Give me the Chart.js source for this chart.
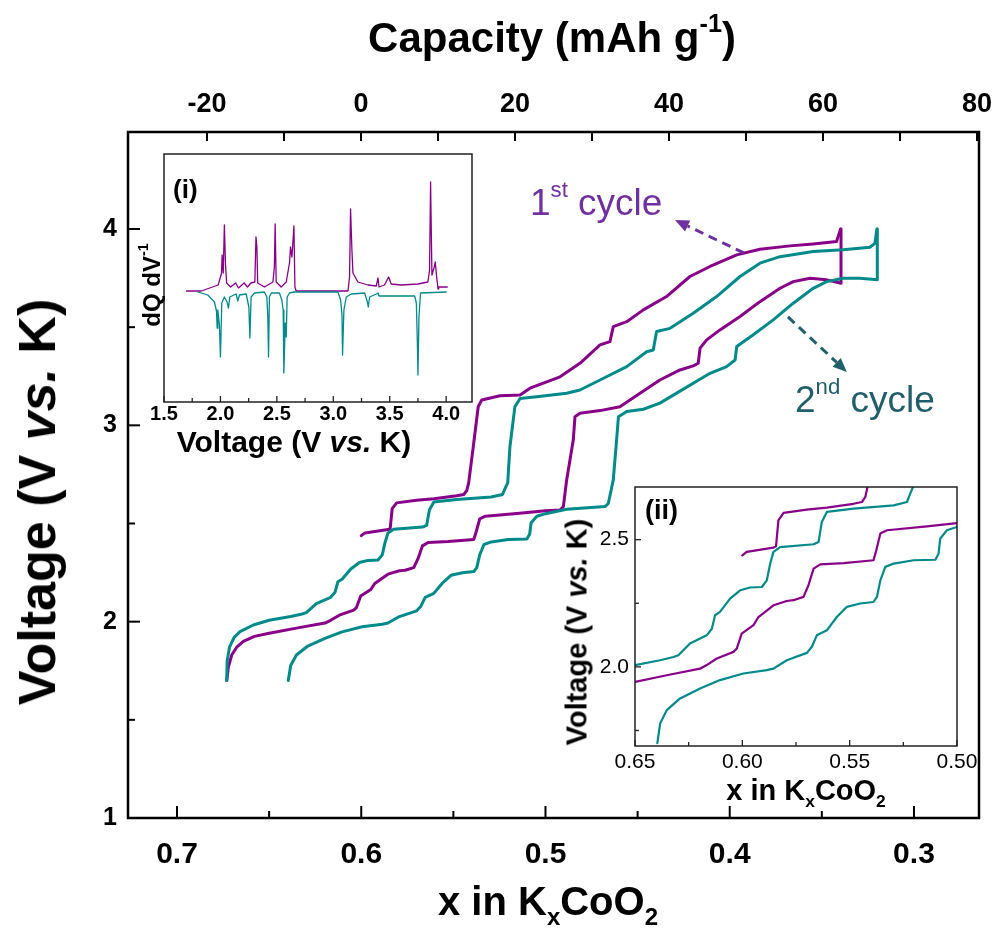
<!DOCTYPE html>
<html>
<head>
<meta charset="utf-8">
<script src="https://cdn.jsdelivr.net/npm/chart.js@4.4.1/dist/chart.umd.min.js"></script>
<style>
  body { margin: 0; background: #fff; }
  #wrap { position: relative; width: 997px; height: 937px; overflow: hidden; font-family: 'Liberation Sans', Arial, sans-serif; }
  canvas { position: absolute; }
  .t { position: absolute; white-space: nowrap; line-height: 1; color: #000; }
  .b { font-weight: bold; }
  .ctr { transform: translateX(-50%); }
  .rot { transform: translate(-50%, -50%) rotate(-90deg); }
  sub, sup { font-size: 60%; line-height: 0; position: relative; vertical-align: baseline; }
  sup { top: -0.8em; }
  sub { top: 0.4em; }
</style>
</head>
<body>
<div id="wrap">
  <canvas id="main" width="997" height="937" style="left:0;top:0"></canvas>
  <canvas id="insetDq" width="390" height="330" style="left:100px;top:140px"></canvas>
  <canvas id="insetZoom" width="420" height="316" style="left:560px;top:470px"></canvas>

  <div class="t b ctr" style="left:552px;top:17px;font-size:42px">Capacity (mAh g<sup>-1</sup>)</div>
  <div class="t b ctr" style="left:548px;top:881px;font-size:40px">x in K<sub>x</sub>CoO<sub>2</sub></div>
  <div class="t b rot" style="left:37px;top:502px;font-size:52px">Voltage (V <i>vs.</i> K)</div>

  <div class="t" style="left:530px;top:184px;font-size:37px;color:#7030a0">1<sup>st</sup> cycle</div>
  <div class="t" style="left:795px;top:381px;font-size:37px;color:#215e6b">2<sup>nd</sup> cycle</div>

  <div class="t b" style="left:173px;top:176px;font-size:26px">(i)</div>
  <div class="t b ctr" style="left:294px;top:427px;font-size:30px">Voltage (V <i>vs.</i> K)</div>
  <div class="t b rot" style="left:152px;top:285px;font-size:24px">dQ dV<sup>-1</sup></div>

  <div class="t b" style="left:645px;top:497px;font-size:27px">(ii)</div>
  <div class="t b rot" style="left:577px;top:632px;font-size:29px">Voltage (V <i>vs.</i> K)</div>
  <div class="t b ctr" style="left:806px;top:776px;font-size:29px">x in K<sub>x</sub>CoO<sub>2</sub></div>
</div>
<script>
// voltage profiles: [x in KxCoO2, V vs K]
const charge1 = [
  [0.600, 2.438], [0.598, 2.452], [0.5855, 2.469], [0.5843, 2.474], [0.5832, 2.576], [0.5808, 2.605],
  [0.570, 2.618], [0.5606, 2.626], [0.5482, 2.641], [0.5443, 2.648], [0.5427, 2.668], [0.5417, 2.707],
  [0.5392, 2.891], [0.5365, 3.095], [0.5346, 3.129], [0.5247, 3.151], [0.5138, 3.155], [0.5084, 3.189],
  [0.4921, 3.247], [0.4813, 3.316], [0.4704, 3.410], [0.4650, 3.426], [0.4632, 3.503], [0.4559, 3.528],
  [0.4469, 3.588], [0.4343, 3.656], [0.4216, 3.758], [0.4107, 3.809], [0.3962, 3.868], [0.3836, 3.897],
  [0.3673, 3.914], [0.3547, 3.924], [0.3420, 3.936], [0.3398, 4.000]
];
const discharge1 = [
  [0.3396, 4.000], [0.3396, 3.724], [0.3474, 3.741], [0.3564, 3.749], [0.3655, 3.732], [0.3727, 3.698],
  [0.3836, 3.630], [0.3944, 3.554], [0.4053, 3.486], [0.4125, 3.435], [0.4161, 3.393], [0.4171, 3.316],
  [0.4198, 3.303], [0.4270, 3.282], [0.4379, 3.231], [0.4487, 3.164], [0.4596, 3.095], [0.4704, 3.075],
  [0.4813, 3.061], [0.4840, 3.044], [0.4849, 2.926], [0.4885, 2.722], [0.4903, 2.586], [0.4921, 2.569],
  [0.5000, 2.565], [0.5140, 2.552], [0.5326, 2.537], [0.5357, 2.524], [0.5376, 2.458], [0.5389, 2.419],
  [0.5528, 2.408], [0.5637, 2.403], [0.5668, 2.386], [0.5692, 2.321], [0.5715, 2.275], [0.5762, 2.262],
  [0.5793, 2.259], [0.5855, 2.242], [0.5925, 2.196], [0.5948, 2.164], [0.6003, 2.131], [0.6026, 2.072],
  [0.6041, 2.059], [0.6119, 2.033], [0.6166, 2.007], [0.6197, 1.993], [0.6352, 1.967], [0.6500, 1.941],
  [0.6580, 1.925], [0.6640, 1.900], [0.6676, 1.870], [0.6703, 1.830], [0.6721, 1.770], [0.6730, 1.700]
];
const charge2 = [
  [0.6730, 1.700], [0.6728, 1.800], [0.6715, 1.870], [0.6690, 1.920], [0.6658, 1.949], [0.6586, 1.983],
  [0.6500, 2.007], [0.6383, 2.026], [0.6321, 2.039], [0.6298, 2.046], [0.6244, 2.092], [0.6166, 2.124],
  [0.6142, 2.150], [0.6127, 2.203], [0.6104, 2.216], [0.6057, 2.268], [0.6010, 2.301], [0.5964, 2.312],
  [0.5909, 2.314], [0.5886, 2.340], [0.5870, 2.406], [0.5855, 2.452], [0.5824, 2.471], [0.5668, 2.482],
  [0.5645, 2.491], [0.5630, 2.569], [0.5606, 2.609], [0.5482, 2.622], [0.5295, 2.635], [0.5233, 2.648],
  [0.5218, 2.681], [0.5205, 2.707], [0.5193, 2.891], [0.5166, 3.095], [0.5138, 3.137], [0.5048, 3.146],
  [0.4885, 3.163], [0.4813, 3.180], [0.4704, 3.231], [0.4559, 3.299], [0.4451, 3.375], [0.4415, 3.384],
  [0.4397, 3.478], [0.4324, 3.494], [0.4198, 3.571], [0.4071, 3.656], [0.3944, 3.758], [0.3836, 3.826],
  [0.3727, 3.859], [0.3547, 3.885], [0.3384, 3.894], [0.3239, 3.907], [0.3212, 3.927], [0.3201, 4.000]
];
const discharge2 = [
  [0.3199, 4.000], [0.3199, 3.741], [0.3293, 3.749], [0.3384, 3.749], [0.3474, 3.732], [0.3547, 3.698],
  [0.3655, 3.622], [0.3764, 3.537], [0.3872, 3.461], [0.3962, 3.401], [0.3971, 3.333], [0.4017, 3.299],
  [0.4107, 3.265], [0.4198, 3.214], [0.4288, 3.164], [0.4379, 3.113], [0.4469, 3.082], [0.4559, 3.070],
  [0.4604, 3.044], [0.4614, 2.926], [0.4632, 2.722], [0.4659, 2.602], [0.4677, 2.586], [0.4885, 2.573],
  [0.5000, 2.550], [0.5047, 2.537], [0.5078, 2.504], [0.5086, 2.445], [0.5101, 2.421], [0.5202, 2.419],
  [0.5295, 2.406], [0.5334, 2.393], [0.5357, 2.340], [0.5373, 2.275], [0.5389, 2.255], [0.5451, 2.249],
  [0.5513, 2.236], [0.5560, 2.196], [0.5583, 2.170], [0.5606, 2.144], [0.5653, 2.124], [0.5676, 2.079],
  [0.5699, 2.055], [0.5793, 2.026], [0.5855, 1.993], [0.5886, 1.987], [0.5995, 1.974], [0.6104, 1.948],
  [0.6197, 1.915], [0.6290, 1.876], [0.6352, 1.830], [0.6383, 1.777], [0.6396, 1.700]
];

// dQ/dV inset: [V, arbitrary units]
const dqdv1 = [
  [1.70, 0], [1.83, 0], [1.98, 0.06], [2.01, 0.18], [2.015, 0.36], [2.025, 0.18], [2.035, 0.66], [2.045, 0.26],
  [2.055, 0.08], [2.09, 0.04], [2.135, 0.08], [2.16, 0.03], [2.21, 0.08], [2.24, 0.04], [2.27, 0.08], [2.305, 0.09],
  [2.315, 0.54], [2.323, 0.44], [2.33, 0.08], [2.39, 0.04], [2.465, 0.09], [2.478, 0.24], [2.485, 0.67], [2.494, 0.09],
  [2.538, 0.04], [2.583, 0.09], [2.612, 0.28], [2.621, 0.44], [2.633, 0.34], [2.642, 0.48], [2.651, 0.65], [2.66, 0.04],
  [2.671, 0], [3.13, 0], [3.144, 0.14], [3.153, 0.82], [3.165, 0.41], [3.174, 0.18], [3.218, 0.09], [3.307, 0.06],
  [3.381, 0.05], [3.396, 0.13], [3.405, 0.04], [3.454, 0.06], [3.49, 0.14], [3.513, 0.07], [3.602, 0.06], [3.75, 0.07],
  [3.838, 0.09], [3.853, 0.21], [3.862, 1.09], [3.874, 0.16], [3.892, 0.23], [3.904, 0.29], [3.913, 0.17], [3.928, 0.02],
  [3.934, 0.04], [4.01, 0.04]
];
const dqdv2 = [
  [1.80, -0.01], [1.888, -0.04], [1.947, -0.11], [1.965, -0.20], [1.971, -0.37], [1.977, -0.19], [1.991, -0.34], [2.0, -0.66],
  [2.012, -0.12], [2.035, -0.06], [2.059, -0.11], [2.071, -0.17], [2.083, -0.06], [2.139, -0.03], [2.154, -0.10], [2.169, -0.04],
  [2.228, -0.03], [2.252, -0.16], [2.261, -0.47], [2.272, -0.06], [2.302, -0.02], [2.39, -0.01], [2.411, -0.06], [2.42, -0.26],
  [2.426, -0.66], [2.434, -0.06], [2.45, -0.02], [2.523, -0.02], [2.544, -0.09], [2.556, -0.19], [2.562, -0.82], [2.574, -0.32],
  [2.583, -0.46], [2.591, -0.06], [2.612, -0.02], [2.65, -0.01], [3.041, -0.01], [3.065, -0.09], [3.077, -0.24], [3.082, -0.64],
  [3.094, -0.19], [3.115, -0.06], [3.16, -0.03], [3.278, -0.02], [3.302, -0.11], [3.31, -0.16], [3.322, -0.06], [3.381, -0.03],
  [3.397, -0.02], [3.405, -0.05], [3.721, -0.05], [3.736, -0.12], [3.745, -0.52], [3.75, -0.84], [3.759, -0.26], [3.773, -0.02],
  [4.0, -0.01]
];

// ticks
const xTicks = [0.7, 0.6, 0.5, 0.4, 0.3];
const xMinor = [0.65, 0.55, 0.45, 0.35];
const capTicks = [-20, 0, 20, 40, 60, 80];
const capMinor = [-10, 10, 30, 50, 70];
const yTicks = [1, 2, 3, 4];
const yMinor = [1.5, 2.5, 3.5];
const dqTicks = [1.5, 2.0, 2.5, 3.0, 3.5, 4.0];
const dqMinor = [1.75, 2.25, 2.75, 3.25, 3.75];
const zoomXTicks = [0.65, 0.60, 0.55, 0.50];
const zoomXMinor = [0.625, 0.575, 0.525];
const zoomYTicks = [2.0, 2.5];
const zoomYMinor = [1.75, 2.25];

const PURPLE = '#880088';
const TEAL = '#008a8a';
const NARROW = "'Liberation Sans Narrow', 'Arial Narrow', 'Liberation Sans', Arial, sans-serif";
const SANS = "'Liberation Sans', Arial, sans-serif";

function curve(arr, color, width) {
  return {
    data: arr.map(([x, y]) => ({ x, y })),
    borderColor: color, borderWidth: width, showLine: true,
    pointRadius: 0, tension: 0, borderJoinStyle: 'round', borderCapStyle: 'round'
  };
}
function fixTicks(values) {
  return s => { s.ticks = values.map(v => ({ value: v })); };
}
// fixed axis box size, no extra label overflow padding so the plot box lands where it should
function fitSize(size) {
  return s => {
    if (s.isHorizontal()) s.height = size; else s.width = size;
    s.paddingLeft = s.paddingRight = s.paddingTop = s.paddingBottom = 0;
  };
}

// frame + inward tick marks
const frameTicks = {
  id: 'frameTicks',
  beforeDatasetsDraw(chart, args, opts) {
    if (!opts.fill) return;
    const a = chart.chartArea;
    chart.ctx.save();
    chart.ctx.fillStyle = '#fff';
    chart.ctx.fillRect(a.left, a.top, a.right - a.left, a.bottom - a.top);
    chart.ctx.restore();
  },
  afterDatasetsDraw(chart, args, opts) {
    const { ctx, chartArea: a } = chart;
    ctx.save();
    ctx.strokeStyle = opts.color;
    ctx.lineWidth = opts.tickWidth;
    (opts.marks || []).forEach(m => {
      const s = chart.scales[m.scale];
      m.values.forEach(v => {
        const p = s.getPixelForValue(v);
        ctx.beginPath();
        if (m.side === 'bottom') { ctx.moveTo(p, a.bottom); ctx.lineTo(p, a.bottom - m.len); }
        if (m.side === 'top') { ctx.moveTo(p, a.top); ctx.lineTo(p, a.top + m.len); }
        if (m.side === 'left') { ctx.moveTo(a.left, p); ctx.lineTo(a.left + m.len, p); }
        ctx.stroke();
      });
    });
    ctx.lineWidth = opts.frameWidth;
    ctx.strokeRect(a.left, a.top, a.right - a.left, a.bottom - a.top);
    ctx.restore();
  }
};

// dashed annotation arrows, endpoints in data units
const arrows = {
  id: 'arrows',
  afterDatasetsDraw(chart, args, opts) {
    const { ctx } = chart;
    const sx = chart.scales.x, sy = chart.scales.y;
    (opts.items || []).forEach(it => {
      const x0 = sx.getPixelForValue(it.from[0]), y0 = sy.getPixelForValue(it.from[1]);
      const x1 = sx.getPixelForValue(it.to[0]), y1 = sy.getPixelForValue(it.to[1]);
      const ang = Math.atan2(y1 - y0, x1 - x0);
      const head = 14, half = 6;
      const bx = x1 - head * Math.cos(ang), by = y1 - head * Math.sin(ang);
      ctx.save();
      ctx.strokeStyle = it.color;
      ctx.fillStyle = it.color;
      ctx.lineWidth = 3;
      ctx.setLineDash([9, 6]);
      ctx.beginPath();
      ctx.moveTo(x0, y0);
      ctx.lineTo(bx, by);
      ctx.stroke();
      ctx.setLineDash([]);
      ctx.beginPath();
      ctx.moveTo(x1, y1);
      ctx.lineTo(bx + half * Math.sin(ang), by - half * Math.cos(ang));
      ctx.lineTo(bx - half * Math.sin(ang), by + half * Math.cos(ang));
      ctx.closePath();
      ctx.fill();
      ctx.restore();
    });
  }
};

const common = {
  responsive: false,
  animation: false,
  devicePixelRatio: 1,
  events: []
};
const hideGrid = { display: false, drawTicks: false };

new Chart(document.getElementById('main'), {
  type: 'scatter',
  data: {
    datasets: [
      curve(discharge2, TEAL, 3),
      curve(charge2, TEAL, 3),
      curve(discharge1, PURPLE, 3),
      curve(charge1, PURPLE, 3)
    ]
  },
  options: {
    ...common,
    layout: { padding: { left: 0, right: 18, top: 0, bottom: 0 } },
    plugins: {
      legend: { display: false },
      tooltip: { enabled: false },
      frameTicks: {
        color: '#000', tickWidth: 2, frameWidth: 2.5,
        marks: [
          { scale: 'x', side: 'bottom', values: xTicks, len: 12 },
          { scale: 'x', side: 'bottom', values: xMinor, len: 7 },
          { scale: 'cap', side: 'top', values: capTicks, len: 9 },
          { scale: 'cap', side: 'top', values: capMinor, len: 9 },
          { scale: 'y', side: 'left', values: yTicks, len: 12 },
          { scale: 'y', side: 'left', values: yMinor, len: 7 }
        ]
      },
      arrows: {
        items: [
          { from: [0.3923, 3.878], to: [0.4297, 4.046], color: '#7030a0' },
          { from: [0.3684, 3.552], to: [0.3364, 3.272], color: '#23606e' }
        ]
      }
    },
    scales: {
      x: {
        type: 'linear', position: 'bottom', reverse: true, min: 0.2647, max: 0.7266,
        grid: hideGrid, border: { display: false },
        ticks: { font: { family: NARROW, size: 30, weight: 'bold' }, color: '#000', padding: 19, maxRotation: 0, autoSkip: false,
                 callback: v => v.toFixed(1) },
        afterBuildTicks: fixTicks(xTicks), afterFit: fitSize(119)
      },
      cap: {
        type: 'linear', position: 'top', min: -30.26, max: 80.26,
        grid: hideGrid, border: { display: false },
        ticks: { font: { family: NARROW, size: 27, weight: 'bold' }, color: '#000', padding: 11, maxRotation: 0, autoSkip: false,
                 callback: v => String(v) },
        afterBuildTicks: fixTicks(capTicks), afterFit: fitSize(132)
      },
      y: {
        type: 'linear', position: 'left', min: 1.0, max: 4.494,
        grid: hideGrid, border: { display: false },
        ticks: { font: { family: SANS, size: 25, weight: 'bold' }, color: '#000', padding: 11, autoSkip: false,
                 callback: v => String(v) },
        afterBuildTicks: fixTicks(yTicks), afterFit: fitSize(128)
      }
    }
  },
  plugins: [frameTicks, arrows]
});

new Chart(document.getElementById('insetDq'), {
  type: 'scatter',
  data: {
    datasets: [
      curve(dqdv2, TEAL, 1.3),
      curve(dqdv1, PURPLE, 1.3)
    ]
  },
  options: {
    ...common,
    layout: { padding: { left: 0, right: 18, top: 14, bottom: 0 } },
    plugins: {
      legend: { display: false },
      tooltip: { enabled: false },
      frameTicks: {
        fill: true, color: '#222', tickWidth: 1.3, frameWidth: 1.5,
        marks: [
          { scale: 'x', side: 'bottom', values: dqTicks, len: 6 },
          { scale: 'x', side: 'bottom', values: dqMinor, len: 4 }
        ]
      }
    },
    scales: {
      x: {
        type: 'linear', position: 'bottom', min: 1.5, max: 4.229,
        grid: hideGrid, border: { display: false },
        ticks: { font: { family: NARROW, size: 20, weight: 'bold' }, color: '#000', padding: 0, maxRotation: 0, autoSkip: false,
                 callback: v => v.toFixed(1) },
        afterBuildTicks: fixTicks(dqTicks), afterFit: fitSize(68)
      },
      y: {
        type: 'linear', position: 'left', min: -1.11, max: 1.37,
        grid: hideGrid, border: { display: false }, ticks: { display: false },
        afterFit: fitSize(64)
      }
    }
  },
  plugins: [frameTicks]
});

new Chart(document.getElementById('insetZoom'), {
  type: 'scatter',
  data: {
    datasets: [
      curve(discharge2, TEAL, 2.2),
      curve(charge2, TEAL, 2.2),
      curve(discharge1, PURPLE, 2.2),
      curve(charge1, PURPLE, 2.2)
    ]
  },
  options: {
    ...common,
    layout: { padding: { left: 0, right: 23, top: 17, bottom: 0 } },
    plugins: {
      legend: { display: false },
      tooltip: { enabled: false },
      frameTicks: {
        fill: true, color: '#222', tickWidth: 1.3, frameWidth: 1.5,
        marks: [
          { scale: 'x', side: 'bottom', values: zoomXTicks, len: 6 },
          { scale: 'x', side: 'bottom', values: zoomXMinor, len: 4 },
          { scale: 'y', side: 'left', values: zoomYTicks, len: 6 },
          { scale: 'y', side: 'left', values: zoomYMinor, len: 4 }
        ]
      }
    },
    scales: {
      x: {
        type: 'linear', position: 'bottom', reverse: true, min: 0.50, max: 0.65,
        grid: hideGrid, border: { display: false },
        ticks: { font: { family: SANS, size: 21 }, color: '#000', padding: 4, maxRotation: 0, autoSkip: false,
                 callback: v => v.toFixed(2) },
        afterBuildTicks: fixTicks(zoomXTicks), afterFit: fitSize(40)
      },
      y: {
        type: 'linear', position: 'left', min: 1.689, max: 2.707,
        grid: hideGrid, border: { display: false },
        ticks: { font: { family: SANS, size: 21 }, color: '#000', padding: 6, autoSkip: false,
                 callback: v => v.toFixed(1) },
        afterBuildTicks: fixTicks(zoomYTicks), afterFit: fitSize(75)
      }
    }
  },
  plugins: [frameTicks]
});
</script>
</body>
</html>
